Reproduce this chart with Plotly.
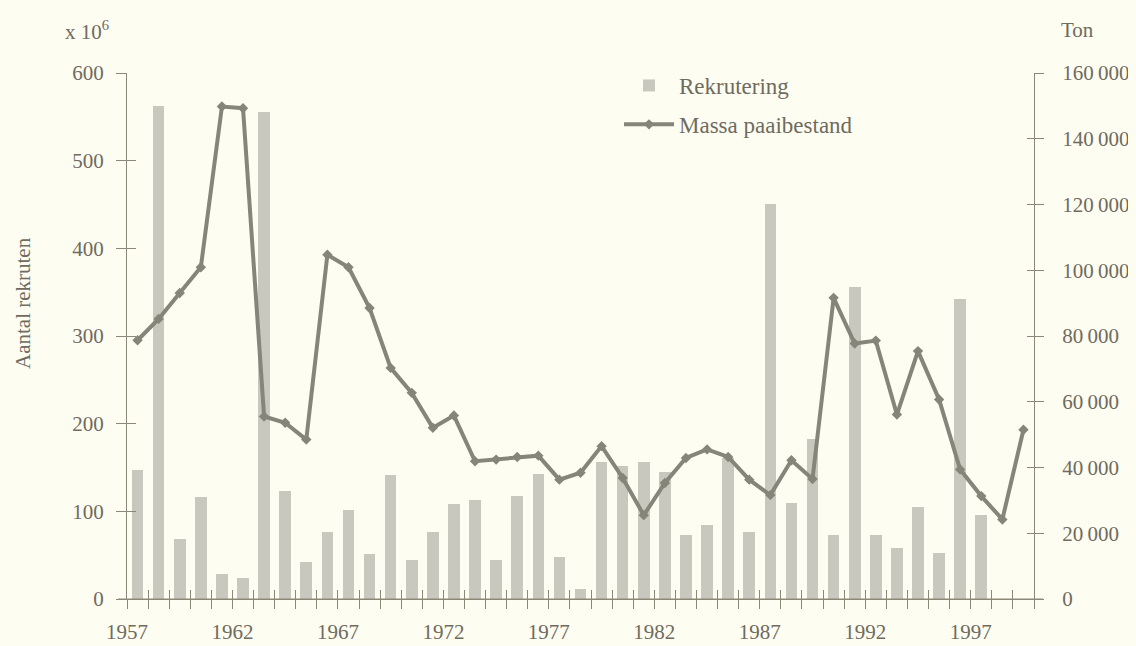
import plotly.graph_objects as go

# ---- data ----
bar_years = list(range(1957, 1998))
recruits = [147, 562, 68, 116, 28, 24, 556, 123, 42, 77, 101, 51, 142, 44, 77,
            108, 113, 44, 117, 143, 48, 11, 156, 152, 156, 145, 73, 84, 161, 76,
            451, 110, 182, 73, 356, 73, 58, 105, 52, 342, 96]
line_years = list(range(1957, 2000))
ssb_tons = [78700, 85200, 93100, 100900, 149800, 149300, 55500, 53600, 48500,
            104700, 100900, 88500, 70300, 62700, 52100, 55800, 41900, 42400,
            43200, 43600, 36300, 38400, 46500, 36800, 25500, 35300, 42900,
            45500, 43200, 36300, 31600, 42200, 36500, 91600, 77700, 78600,
            56100, 75400, 60700, 39400, 31300, 24200, 51500]
label_years = [1957, 1962, 1967, 1972, 1977, 1982, 1987, 1992, 1997]
left_ticks = [0, 100, 200, 300, 400, 500, 600]
right_ticks = [0, 20000, 40000, 60000, 80000, 100000, 120000, 140000, 160000]

# ---- style ----
BG = "#fdfdf2"
BAR = "#c9c8be"
LINE = "#86857a"
AX = "#8c8878"
TXT = "#6f6b5e"
FONT = "Liberation Serif"

# page body has an 8px margin; lay out in page pixels and shift
OFF = 8
W, H = 1136 - OFF, 646 - OFF
P_LEFT, P_RIGHT, P_TOP, P_BOTTOM = 127, 1034, 73, 599   # page pixels
ML, MT = P_LEFT - OFF, P_TOP - OFF
MR, MB = W - (P_RIGHT - OFF), H - (P_BOTTOM - OFF)
PW, PH = W - ML - MR, H - MT - MB


def px(x):
    return (x - OFF - ML) / PW


def py(y):
    return 1 - (y - OFF - MT) / PH


boundaries = [y - 0.5 for y in range(1957, 2001)]
xtext = [str(int(b + 0.5)) if int(b + 0.5) in label_years else "" for b in boundaries]


def fmt(v):
    return f"{v:,}".replace(",", "\u2009") if v else "0"


fig = go.Figure()
fig.add_trace(go.Bar(x=bar_years, y=recruits, name="Rekrutering", width=0.55,
                     marker=dict(color=BAR, line=dict(width=0)),
                     legendgroup="a", xaxis="x", yaxis="y"))
fig.add_trace(go.Scatter(x=line_years, y=ssb_tons, name="Massa paaibestand",
                         mode="lines+markers",
                         line=dict(color=LINE, width=4),
                         marker=dict(symbol="diamond", size=8, color=LINE),
                         legendgroup="b", xaxis="x", yaxis="y2"))
# helper traces so the overlay tick axes are drawn
for xa, ya in [("x2", "y"), ("x", "y3"), ("x", "y4")]:
    fig.add_trace(go.Scatter(x=[None], y=[None], xaxis=xa, yaxis=ya,
                             showlegend=False, hoverinfo="skip"))

xr = [1956.5, 1999.5]
common_x = dict(range=xr, tickmode="array", tickvals=boundaries, showgrid=False,
                zeroline=False, tickcolor=AX, ticklen=9, tickwidth=1,
                automargin=False)
common_y = dict(tickmode="array", showgrid=False, zeroline=False,
                tickcolor=AX, automargin=False)
fig.update_layout(
    width=W, height=H,
    margin=dict(l=ML, r=MR, t=MT, b=MB, autoexpand=False),
    paper_bgcolor=BG, plot_bgcolor=BG,
    font=dict(family=FONT, color=TXT, size=20),
    bargap=0,
    xaxis=dict(**common_x, ticktext=xtext, ticks="outside", showline=True,
               linecolor=AX, linewidth=1, ticklabelstandoff=5, tickangle=0,
               tickfont=dict(size=21, color=TXT)),
    xaxis2=dict(**common_x, overlaying="x", anchor="y", ticks="inside",
                showticklabels=False, showline=False),
    yaxis=dict(**common_y, range=[0, 600], tickvals=left_ticks,
               ticks="outside", ticklen=10, showline=True,
               linecolor=AX, linewidth=1,
               ticklabelstandoff=8, tickfont=dict(size=21, color=TXT)),
    yaxis3=dict(**common_y, range=[0, 600], tickvals=left_ticks,
                overlaying="y", side="left", ticks="inside", ticklen=9,
                showticklabels=False, showline=False),
    yaxis2=dict(**common_y, range=[0, 160000], tickvals=right_ticks,
                ticktext=[fmt(v) for v in right_ticks],
                overlaying="y", side="right", ticks="outside", ticklen=9,
                showline=True, linecolor=AX, linewidth=1,
                ticklabelstandoff=14, tickfont=dict(size=21, color=TXT)),
    yaxis4=dict(**common_y, range=[0, 160000], tickvals=right_ticks,
                overlaying="y", side="right", ticks="inside", ticklen=7,
                showticklabels=False, showline=False),
    legend=dict(x=px(619), y=py(64), xanchor="left", yanchor="top",
                bgcolor="rgba(0,0,0,0)", font=dict(size=23, color=TXT),
                itemwidth=50, traceorder="grouped", tracegroupgap=6),
    showlegend=True,
)

# baseline extends slightly beyond both vertical axes
fig.add_shape(type="line", xref="paper", yref="y", x0=px(118), x1=px(1043),
              y0=0, y1=0, line=dict(color=AX, width=1))

fig.add_annotation(text="x 10<sup>6</sup>", xref="paper", yref="paper",
                   x=px(63), y=py(30), xanchor="left", yanchor="middle",
                   showarrow=False, font=dict(size=21, color=TXT))
fig.add_annotation(text="Ton", xref="paper", yref="paper",
                   x=px(1059), y=py(30), xanchor="left", yanchor="middle",
                   showarrow=False, font=dict(size=21, color=TXT))
fig.add_annotation(text="Aantal rekruten", xref="paper", yref="paper",
                   x=px(23), y=py(303), xanchor="center", yanchor="middle",
                   textangle=-90, showarrow=False, borderpad=0,
                   font=dict(size=21, color=TXT))

fig.write_html("out.html",
               post_script="document.body.style.backgroundColor='%s';" % BG)
